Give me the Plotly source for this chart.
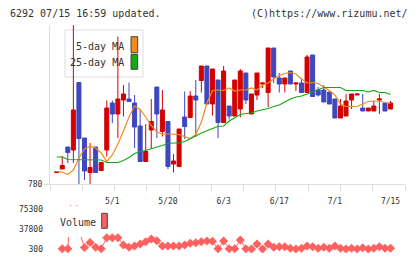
import plotly.graph_objects as go

# ---- data (prices in yen, index = trading day) ----
opens  = [803,810,854,848,983,872,803,854,807,848,942,920,948,950,942,896,825,888,974,885,
          905,820,815,914,913,956,987,1016,940,988,903,936,916,930,1002,920,958,980,963,1052,
          992,980,1006,980,982,963,1038,968,968,964,950,912,916,948,958,932,926,926,948,942,930]
highs  = [804,836,854,1100,983,872,862,854,823,947,947,1075,978,983,958,928,900,950,974,968,
          905,840,890,965,966,988,1016,1016,1010,988,1016,936,988,1010,1002,960,1002,982,1052,1052,
          1002,992,1006,982,992,1038,1038,974,978,964,950,950,960,960,960,960,932,946,960,942,946]
lows   = [803,810,822,822,778,788,779,803,807,835,902,872,915,945,852,825,825,850,872,875,
          810,803,815,870,913,875,963,940,917,872,903,909,916,913,940,920,948,972,934,982,
          963,963,980,966,963,963,955,955,944,940,912,912,916,930,958,926,926,926,920,926,930]
closes = [804,817,843,928,871,806,813,803,823,932,920,950,960,945,894,825,845,905,920,928,
          815,826,890,895,956,948,1016,940,1010,903,1006,916,988,1006,948,960,1002,982,1052,994,
          980,992,980,982,963,1034,955,958,944,940,912,936,946,960,960,926,932,936,950,926,942]
ma5  = [805,804,799,808,832,850,855,852,842,825,838,860,886,914,936,929,914,897,884,880,
        880,880,879,875,871,879,904,942,967,968,967,972,966,968,968,972,968,978,982,990,
        997,1001,1003,1000,990,982,983,981,974,967,958,940,935,935,935,940,945,946,946,943,941]
ma25 = [834,834,829,829,829,829,829,829,828,823,823,823,827,833,841,845,847,851,854,857,
        861,862,862,865,870,876,882,887,891,895,896,906,913,919,921,922,926,928,931,935,
        938,944,950,954,956,960,964,969,973,973,973,973,967,967,967,967,964,967,963,963,959]
volume = [None,860,860,160000,35900,3100,12500,3500,860,21500,21500,21500,7800,3500,5900,9700,14000,19000,15900,5900,
          5900,5900,5900,7800,11000,12100,14000,15300,14700,860,15300,860,860,17200,860,300,9700,300,9700,3500,
          4600,4600,1600,300,1600,5900,4600,1600,3500,1600,5900,1600,300,1600,300,2700,300,1600,4600,1600,1600]
days = list(range(len(closes)))
date_tick_idx = [10, 20, 30, 40, 50, 60]
date_tick_text = ["5/1", "5/20", "6/3", "6/17", "7/1", "7/15"]
price_ticks = [780]
vol_ticks = [300, 37800, 75300]

RED = "#d40000"
BLUE = "#3f47bf"
ORANGE = "#f08c1a"
GREEN = "#14a814"
VOLC = "#ff6060"
GRAY = "#dddddd"
TXT = "#333333"
MONO = "DejaVu Sans Mono"

# layout geometry (pixels)
W, H = 420, 259
L, R, T, B = 50, 15, 25, 6
PW, PH = W - L - R, H - T - B
def px(x): return (x - L) / PW
def py(y): return (H - B - y) / PH

fig = go.Figure()
fig.add_trace(go.Candlestick(
    x=days, open=opens, high=highs, low=lows, close=closes,
    increasing=dict(line=dict(color=RED, width=1), fillcolor=RED),
    decreasing=dict(line=dict(color=BLUE, width=1), fillcolor=BLUE),
    whiskerwidth=0, showlegend=False, hoverinfo="skip", xaxis="x", yaxis="y"))
fig.add_trace(go.Scatter(x=days, y=ma5, mode="lines", line=dict(color=ORANGE, width=1.2),
                         showlegend=False, xaxis="x", yaxis="y"))
fig.add_trace(go.Scatter(x=days, y=ma25, mode="lines", line=dict(color=GREEN, width=1.2),
                         showlegend=False, xaxis="x", yaxis="y"))
fig.add_trace(go.Scatter(x=days, y=volume, mode="lines+markers",
                         line=dict(color=VOLC, width=1),
                         marker=dict(symbol="diamond", size=7, color=VOLC),
                         showlegend=False, xaxis="x2", yaxis="y2"))

xr = [-1.2, 62.6]
grid_ticks = [xr[0] + k * (xr[1] - xr[0]) / 11 for k in range(12)]

fig.update_layout(
    width=W, height=H, margin=dict(l=L, r=R, t=T, b=B, autoexpand=False),
    paper_bgcolor="white", plot_bgcolor="white", showlegend=False,
    font=dict(family=MONO, size=8, color=TXT),
    boxgap=0.15, boxgroupgap=0.15,
    xaxis=dict(domain=[0, 1], range=xr, anchor="y", rangeslider=dict(visible=False),
               automargin=False,
               showgrid=False, zeroline=False, showline=True, linecolor=GRAY, linewidth=1,
               tickmode="array", tickvals=date_tick_idx, ticktext=date_tick_text, ticks="",
               ticklabelstandoff=9, tickfont=dict(family=MONO, size=8, color=TXT),
               minor=dict(tickmode="array", tickvals=grid_ticks, ticks="outside", ticklen=6,
                          tickcolor=GRAY, tickwidth=1, showgrid=False)),
    yaxis=dict(domain=[py(184), 1], range=[780, 1098], anchor="x", automargin=False,
               showgrid=False, zeroline=False, showline=True, linecolor=GRAY, linewidth=1,
               tickmode="array", tickvals=price_ticks, ticktext=[str(v) for v in price_ticks],
               ticks="outside", ticklen=5, tickcolor=GRAY,
               tickfont=dict(family=MONO, size=8, color=TXT)),
    xaxis2=dict(domain=[0, 1], range=xr, anchor="y2", matches="x", showgrid=False,
                automargin=False,
                zeroline=False, showline=False, showticklabels=False, ticks=""),
    yaxis2=dict(domain=[0, py(205)], range=[-7200, 82800], anchor="x2", automargin=False,
                showgrid=False, zeroline=False, showline=False, ticks="",
                tickmode="array", tickvals=vol_ticks, ticktext=[str(v) for v in vol_ticks],
                ticklabelstandoff=6, tickfont=dict(family=MONO, size=8, color=TXT)),
)

shapes = [
    # price legend frame (behind candles)
    dict(type="rect", xref="paper", yref="paper", x0=px(65), x1=px(143), y0=py(77), y1=py(30),
         line=dict(color=GRAY, width=1), fillcolor="white", layer="below"),
    dict(type="rect", xref="paper", yref="paper", x0=px(131), x1=px(137.7), y0=py(52.7), y1=py(36.7),
         line=dict(color="#444", width=1), fillcolor=ORANGE, layer="above"),
    dict(type="rect", xref="paper", yref="paper", x0=px(131), x1=px(137.7), y0=py(69.3), y1=py(54.3),
         line=dict(color="#444", width=1), fillcolor=GREEN, layer="above"),
    # volume legend background
    dict(type="rect", xref="paper", yref="paper", x0=px(55), x1=px(100.5), y0=py(237), y1=py(206),
         line=dict(width=0), fillcolor="white", layer="above"),
    dict(type="rect", xref="paper", yref="paper", x0=px(101.7), x1=px(107.3), y0=py(228.3), y1=py(213.3),
         line=dict(color="#444", width=1), fillcolor=VOLC, layer="above"),
]
fig.update_layout(shapes=shapes)

ann = [
    dict(text="6292 07/15 16:59 updated.", x=px(8), y=py(13), xanchor="left", font=dict(size=10)),
    dict(text="(C)https://www.rizumu.net/", x=px(410), y=py(13), xanchor="right", font=dict(size=10)),
    dict(text="5-day MA", x=px(125.5), y=py(46.5), xanchor="right", font=dict(size=10)),
    dict(text="25-day MA", x=px(125.5), y=py(63), xanchor="right", font=dict(size=10)),
    dict(text="Volume", x=px(58), y=py(222.7), xanchor="left", font=dict(size=10)),
]
for a in ann:
    a.update(xref="paper", yref="paper", yanchor="middle", showarrow=False)
    a["font"].update(family=MONO, color=TXT)
fig.update_layout(annotations=ann)

fig.write_html("out.html")
